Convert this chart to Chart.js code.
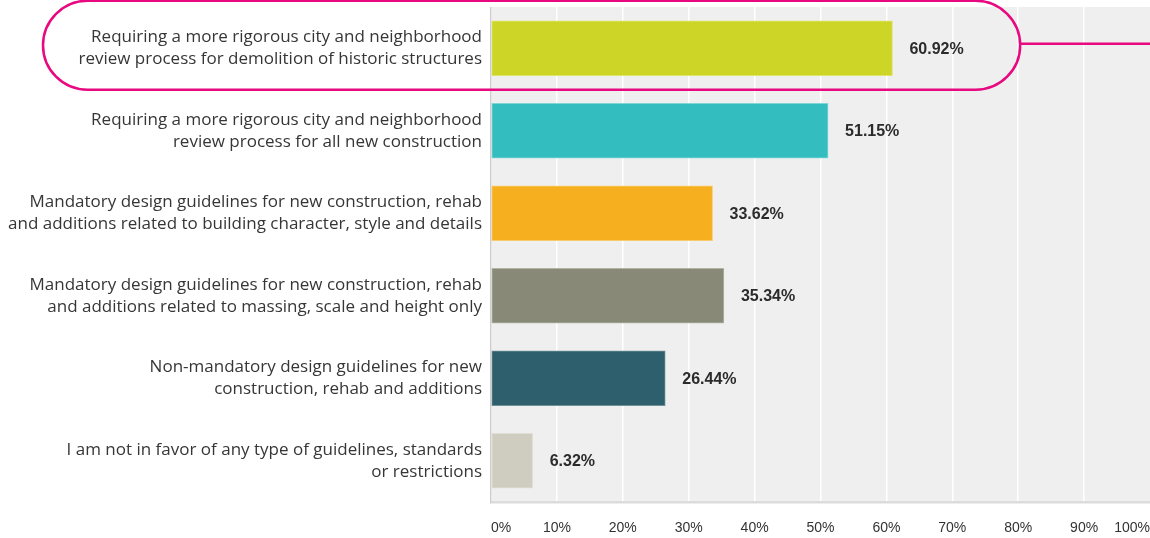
<!DOCTYPE html>
<html>
<head>
<meta charset="utf-8">
<script src="https://cdn.jsdelivr.net/npm/chart.js@4/dist/chart.umd.min.js"></script>
<style>
  html, body { margin: 0; padding: 0; background: #ffffff; overflow: hidden; }
  #wrap { position: relative; width: 1150px; height: 538px; }
</style>
</head>
<body>
<div id="wrap"><canvas id="chart" width="1150" height="538"></canvas></div>
<script>
// Survey answers (each label split into its two display lines)
const categories = [
  ["Requiring a more rigorous city and neighborhood", "review process for demolition of historic structures"],
  ["Requiring a more rigorous city and neighborhood", "review process for all new construction"],
  ["Mandatory design guidelines for new construction, rehab", "and additions related to building character, style and details"],
  ["Mandatory design guidelines for new construction, rehab", "and additions related to massing, scale and height only"],
  ["Non-mandatory design guidelines for new", "construction, rehab and additions"],
  ["I am not in favor of any type of guidelines, standards", "or restrictions"]
];
// Share of respondents, percent
const shares = [60.92, 51.15, 33.62, 35.34, 26.44, 6.32];
const barColors = ["#cdd527", "#34bdbf", "#f6af1e", "#888a77", "#2e5f6c", "#cfcdbf"];
const barEdges = ["#dde46a", "#7fd6d7", "#f9cb6c", "#b3b4a6", "#6f9098", "#e0dfd5"];
// Axis ticks
const tickValues = [0, 10, 20, 30, 40, 50, 60, 70, 80, 90, 100];
// Answer that is circled
const highlightIndex = 0;

const plotBackground = {
  id: "plotBackground",
  beforeDraw(chart) {
    const { ctx, chartArea: a } = chart;
    ctx.save();
    ctx.fillStyle = "#efefef";
    ctx.fillRect(a.left, a.top, a.right - a.left, a.bottom - a.top);
    ctx.restore();
  },
  afterDatasetsDraw(chart) {
    const { ctx, chartArea: a } = chart;
    ctx.save();
    // bottom rule
    ctx.fillStyle = "#dcdcdc";
    ctx.fillRect(a.left, a.bottom - 1, a.right - a.left, 2.5);
    // left rule
    ctx.fillStyle = "#cccccc";
    ctx.fillRect(a.left - 1, a.top, 1.2, a.bottom - a.top + 1.5);
    ctx.restore();
  }
};

const valueLabels = {
  id: "valueLabels",
  afterDatasetsDraw(chart) {
    const { ctx } = chart;
    const meta = chart.getDatasetMeta(0);
    ctx.save();
    ctx.font = "bold 16px 'Liberation Sans', Arial, sans-serif";
    ctx.fillStyle = "#2b2b2b";
    ctx.textAlign = "left";
    ctx.textBaseline = "middle";
    meta.data.forEach((bar, i) => {
      ctx.fillText(shares[i].toFixed(2) + "%", bar.x + 17, bar.y + 1);
    });
    ctx.restore();
  }
};

const highlight = {
  id: "highlight",
  afterDraw(chart) {
    const { ctx, scales } = chart;
    const cy = scales.y.getPixelForValue(highlightIndex) - 3;
    const h = 89;
    const r = h / 2;
    const left = 43;
    const right = scales.x.getPixelForValue(80.3);
    ctx.save();
    ctx.strokeStyle = "#e8087f";
    ctx.lineWidth = 2.5;
    ctx.beginPath();
    ctx.moveTo(left + r, cy - r);
    ctx.lineTo(right - r, cy - r);
    ctx.arc(right - r, cy, r, -Math.PI / 2, Math.PI / 2);
    ctx.lineTo(left + r, cy + r);
    ctx.arc(left + r, cy, r, Math.PI / 2, Math.PI * 1.5);
    ctx.closePath();
    ctx.stroke();
    ctx.beginPath();
    ctx.moveTo(right, cy - 1.5);
    ctx.lineTo(chart.width, cy - 1.5);
    ctx.stroke();
    ctx.restore();
  }
};

new Chart(document.getElementById("chart"), {
  type: "bar",
  data: {
    labels: categories,
    datasets: [{
      data: shares,
      backgroundColor: barColors,
      borderColor: barEdges,
      borderWidth: 1,
      borderSkipped: false,
      barThickness: 55
    }]
  },
  options: {
    indexAxis: "y",
    responsive: false,
    animation: false,
    devicePixelRatio: 1,
    layout: { padding: { top: 7, right: 0, left: 0, bottom: 0 } },
    plugins: { legend: { display: false }, tooltip: { enabled: false } },
    scales: {
      x: {
        min: 0,
        max: 100,
        afterBuildTicks(scale) { scale.ticks = tickValues.map(v => ({ value: v })); },
        afterFit(scale) {
          scale.height = 36;
          scale.paddingLeft = 0;
          scale.paddingRight = 0;
        },
        border: { display: false },
        grid: {
          color: (c) => (c.tick && c.tick.value > 0 && c.tick.value < 100) ? "#ffffff" : "rgba(0,0,0,0)",
          lineWidth: 1.5,
          drawTicks: false
        },
        ticks: {
          align: "inner",
          padding: 18,
          color: "#333333",
          font: { family: "'Liberation Sans', Arial, sans-serif", size: 14 },
          callback: (v) => v + "%"
        }
      },
      y: {
        afterFit(scale) {
          scale.width = 491;
          scale.paddingTop = 0;
          scale.paddingBottom = 0;
        },
        border: { display: false },
        grid: { display: false, drawTicks: false },
        ticks: {
          padding: 9,
          color: "#363636",
          font: { family: "'Open Sans', sans-serif", size: 17, lineHeight: 1.3 }
        }
      }
    }
  },
  plugins: [plotBackground, valueLabels, highlight]
});
</script>
</body>
</html>
